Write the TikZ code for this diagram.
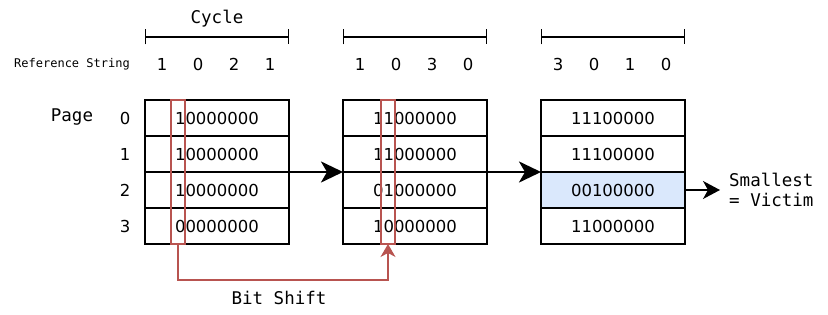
\documentclass[tikz,border=0pt]{standalone}
\usepackage{fontspec}
\setmainfont{DejaVu Sans}
\newfontfamily\monofont{DejaVu Sans Mono}
\usepackage{tikz}
\usetikzlibrary{positioning, arrows.meta, calc, backgrounds}

\definecolor{shiftred}{HTML}{B85450}
\definecolor{victimblue}{HTML}{DAE8FC}

\tikzset{
  cell/.style={draw, line width=1.4pt, minimum width=144pt, minimum height=36pt,
    inner sep=0pt, outer sep=0pt, font=\fontsize{16.5}{16.5}\selectfont},
  shiftbox/.style={draw=shiftred, line width=1.2pt, minimum width=14pt,
    minimum height=144pt, inner sep=0pt, outer sep=0pt},
  monolbl/.style={font=\monofont\fontsize{17.5}{20}\selectfont},
  tinylbl/.style={font=\monofont\fontsize{12}{13}\selectfont},
  digit/.style={font=\fontsize{16.5}{16.5}\selectfont},
  flow/.style={line width=2.8pt, -{Stealth[length=22pt, width=21pt, inset=6pt]}},
}

\begin{document}
\begin{tikzpicture}[x=1pt, y=-1pt]
        \useasboundingbox (0,0) rectangle (828,315);

        % Bit tables
        \foreach \t/\x/\bits/\refs in {
            1/145/{10000000,10000000,10000000,00000000}/{1,0,2,1},
            2/343/{11000000,11000000,01000000,10000000}/{1,0,3,0},
            3/541/{11100000,11100000,00100000,11000000}/{3,0,1,0}} {
          \foreach \b [count=\r from 0] in \bits {
            \node[cell] (t\t r\r) at (\x+72, 118+36*\r) {\b};
          }
          \foreach \d [count=\k from 0] in \refs {
            \node[digit] (ref\t k\k) at (\x+17+36*\k, 64) {\d};
          }
          \draw[line width=1.4pt, {Bar[width=15pt]}-{Bar[width=15pt]}] (\x,37) -- (\x+144,37);
        }

        \begin{scope}[on background layer]
          \fill[victimblue] (t3r2.north west) rectangle (t3r2.south east);
        \end{scope}

        % Labels
        \node[monolbl] (cycle) at (217,19) {Cycle};
        \node[tinylbl] (refstr) at (72,64) {Reference String};
        \node[monolbl] (page) at (72,117) {Page};
        \foreach \r in {0,...,3} {
          \node[digit] (row\r) at (125, 118+36*\r) {\r};
        }

        % Transitions
        \draw[flow] (t1r1.south east) -- (t2r1.south west);
        \draw[flow] (t2r1.south east) -- (t3r2.north west);

        % Victim
        \node[monolbl, anchor=west, align=left, inner xsep=9pt, inner ysep=0pt] (victim) at (720,190) {Smallest\\= Victim};
        \draw[line width=1.4pt, -{Stealth[length=17pt, width=18pt, inset=5pt]}] (t3r2.east) -- (victim.west);

        % Bit shift
        \node[shiftbox] (mark1) at (178,172) {};
        \node[shiftbox] (mark2) at (388,172) {};
        \draw[shiftred, line width=1.2pt, -{Stealth[length=13pt, width=15pt, inset=4pt]}]
          (mark1.south) -- ++(0,36) -| (mark2.south);
        \node[monolbl] (shift) at (279,298) {Bit Shift};
      \end{tikzpicture}
\end{document}
